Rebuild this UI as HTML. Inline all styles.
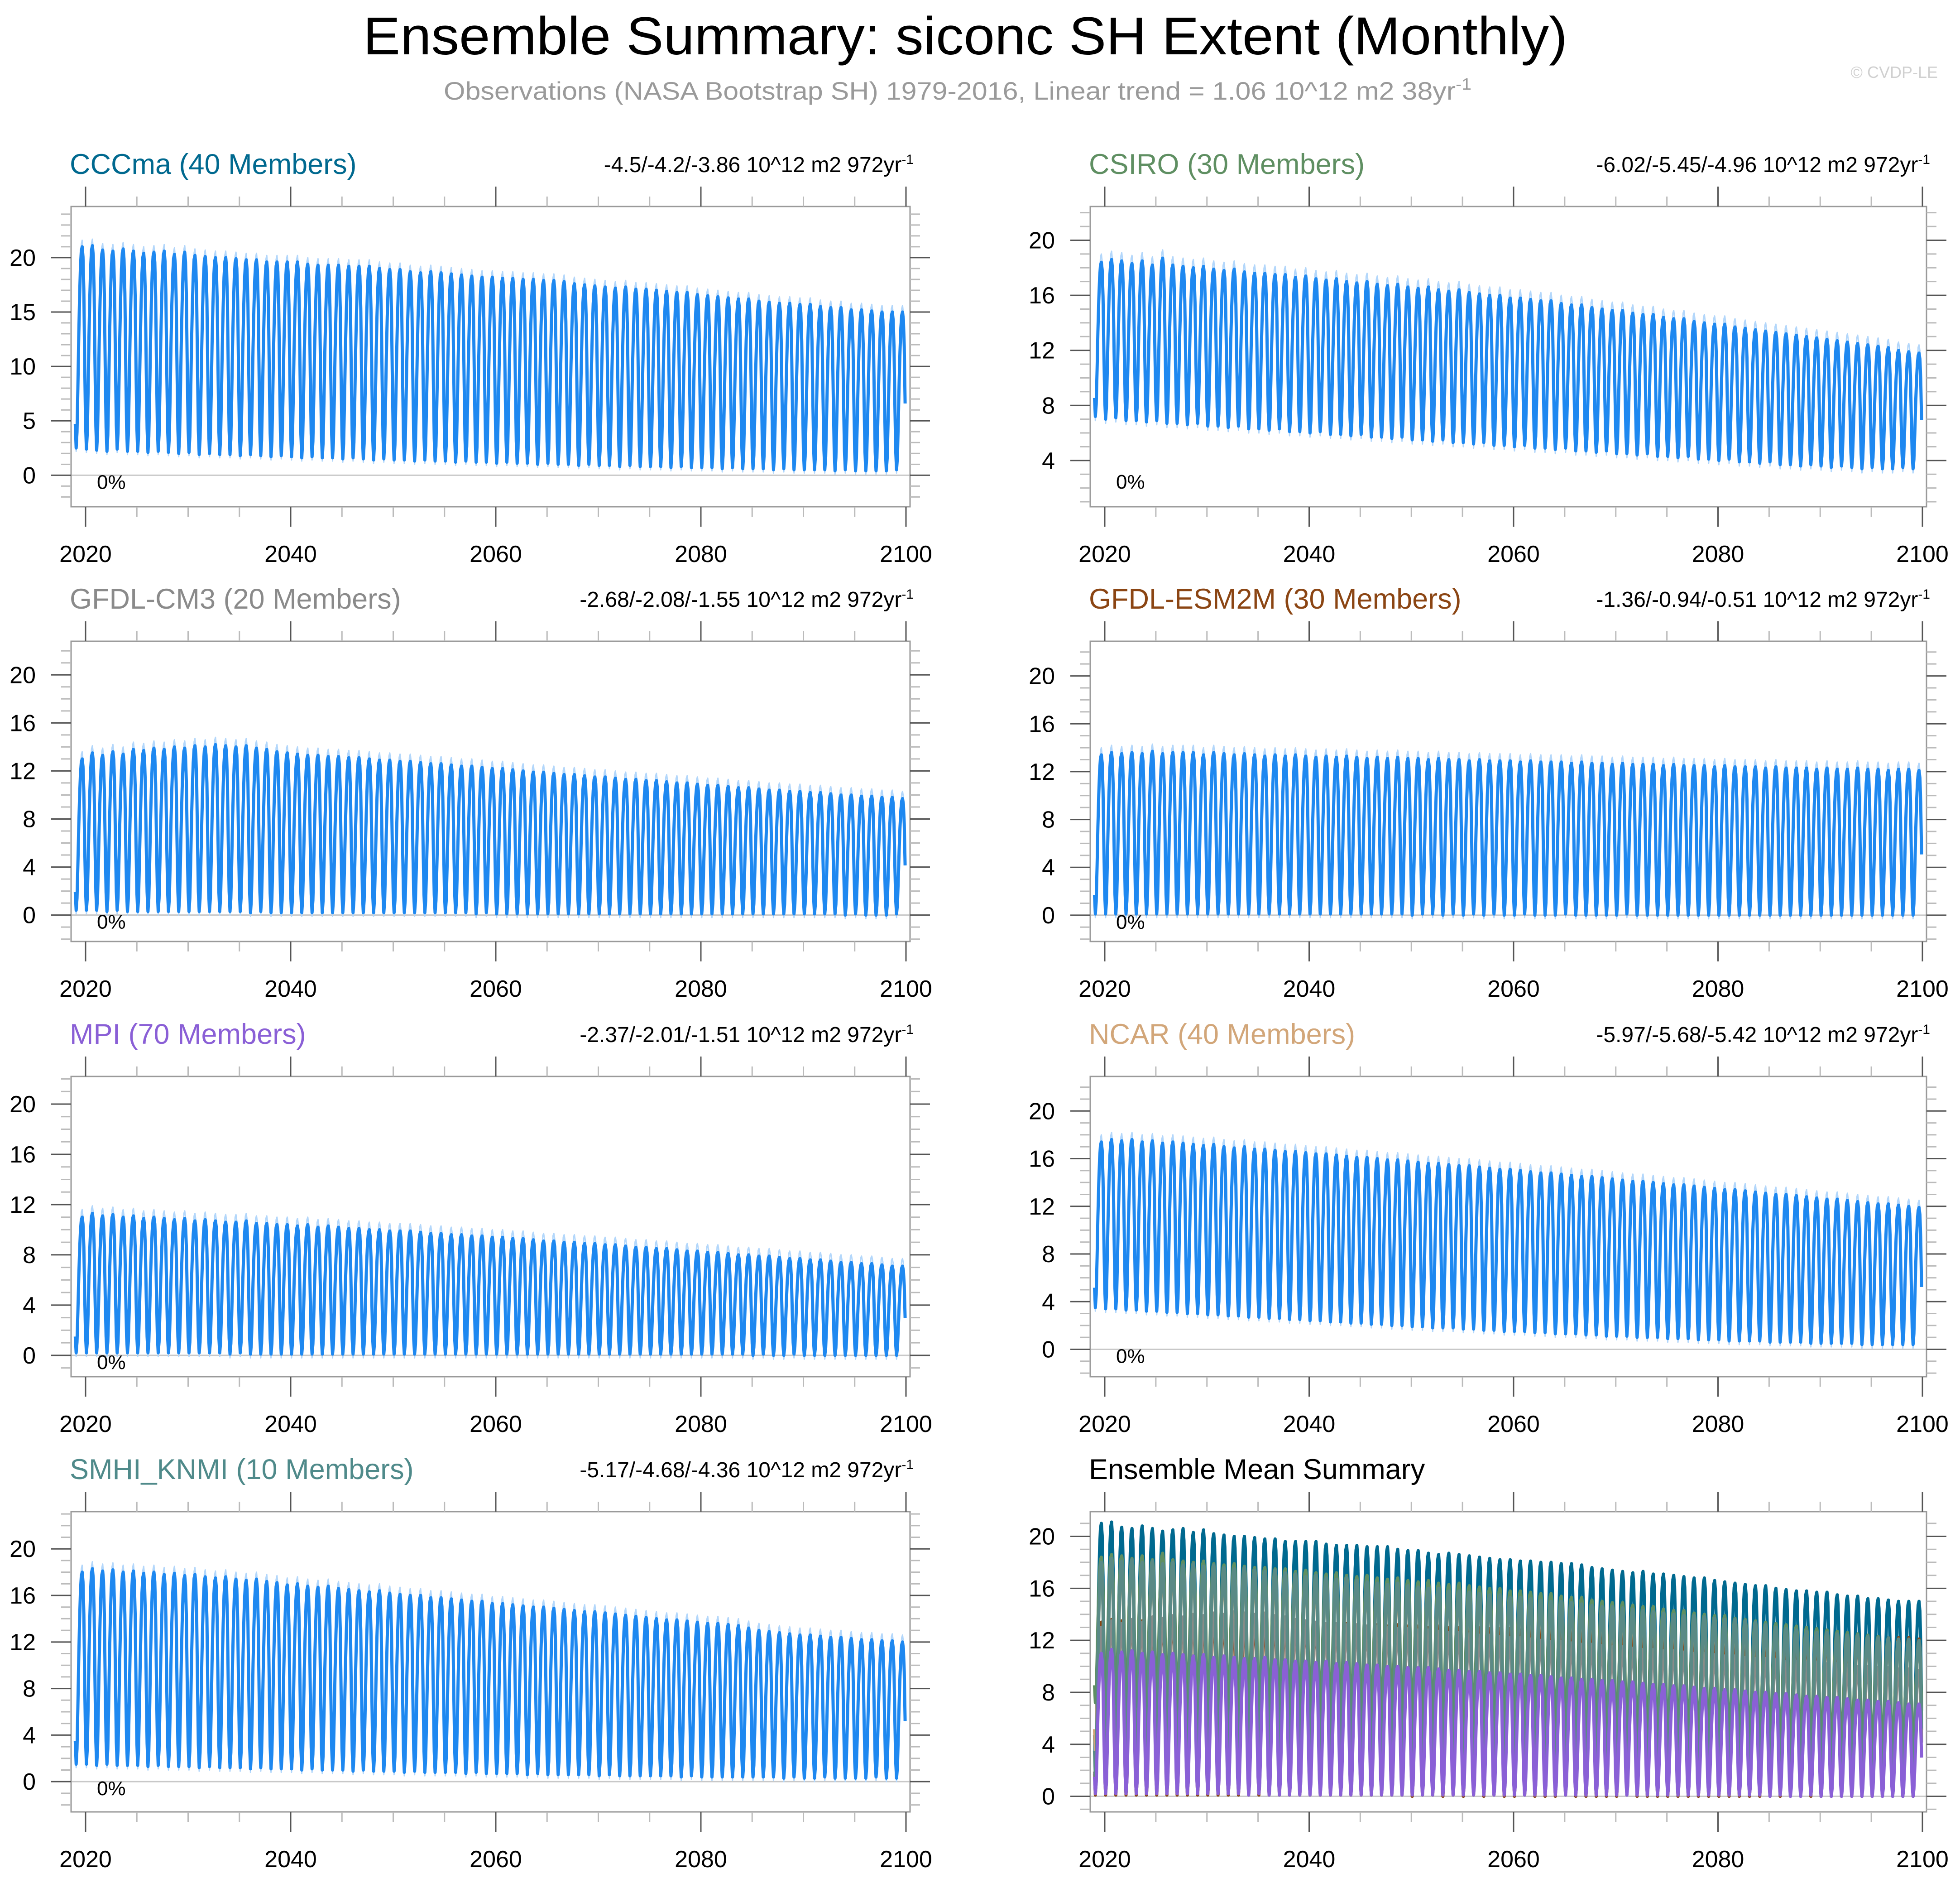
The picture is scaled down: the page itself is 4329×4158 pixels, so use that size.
<!DOCTYPE html>
<html><head><meta charset="utf-8"><title>Ensemble Summary: siconc SH Extent</title>
<style>html,body{margin:0;padding:0;background:#fff;}svg{display:block;font-family:"Liberation Sans",Arial,sans-serif;}</style>
</head><body>
<svg id="chart" width="4329" height="4158" viewBox="0 0 4329 4158" xmlns="http://www.w3.org/2000/svg">
<rect x="0" y="0" width="4329" height="4158" fill="#fff"/>
<text x="2132" y="120" font-size="118" text-anchor="middle" textLength="2660" lengthAdjust="spacingAndGlyphs" fill="#000">Ensemble Summary: siconc SH Extent (Monthly)</text>
<text x="980" y="220" font-size="56" fill="#9a9a9a" textLength="2270" lengthAdjust="spacingAndGlyphs">Observations (NASA Bootstrap SH) 1979-2016, Linear trend = 1.06 10^12 m2 38yr<tspan dy="-22" font-size="36">-1</tspan></text>
<text x="4280" y="172" font-size="36" fill="#d0d0d0" text-anchor="end">© CVDP-LE</text>
</svg>
<script>
// ---- data (annual max / min of monthly SH sea-ice extent, 10^12 m2), 2019..2099 ----
const years = [2019,2099];
const monthShape = [0.12,0.0,0.08,0.3,0.55,0.75,0.9,0.98,1.0,0.95,0.78,0.42];
const xTickLabels = [2020,2040,2060,2080,2100];

const cccmaMax = [21.0,21.1,20.7,20.6,20.8,20.6,20.4,20.5,20.6,
20.3,20.5,20.2,20.1,20.0,20.0,19.9,19.8,19.8,
19.6,19.6,19.6,19.6,19.4,19.3,19.3,19.3,19.2,
19.2,19.2,19.0,18.9,18.9,18.7,18.6,18.7,18.6,
18.5,18.4,18.3,18.2,18.2,18.1,18.1,18.0,18.0,
17.9,17.9,17.8,17.6,17.5,17.4,17.3,17.2,17.3,
17.1,17.1,17.0,16.9,16.8,16.8,16.6,16.5,16.4,
16.3,16.2,16.2,16.0,15.9,15.8,15.8,15.7,15.7,
15.5,15.4,15.4,15.2,15.2,15.1,15.0,15.0,15.0];
const cccmaMin = [2.5,2.4,2.3,2.2,2.4,2.2,2.2,2.1,2.2,
2.1,2.0,2.1,1.9,2.0,1.9,1.9,1.8,1.9,
1.8,1.7,1.8,1.7,1.6,1.7,1.6,1.6,1.5,
1.6,1.5,1.4,1.5,1.4,1.4,1.3,1.4,1.3,
1.3,1.2,1.3,1.2,1.2,1.1,1.2,1.1,1.1,
1.0,1.1,1.0,1.0,0.9,1.0,0.9,0.9,0.8,
0.9,0.8,0.8,0.8,0.7,0.8,0.7,0.7,0.7,
0.6,0.7,0.6,0.6,0.6,0.5,0.6,0.5,0.5,
0.5,0.5,0.4,0.5,0.4,0.4,0.4,0.4,0.5];
const csiroMax = [18.4,18.6,18.5,18.3,18.5,18.2,18.7,18.2,18.1,
18.0,18.1,17.9,17.8,17.9,17.7,17.6,17.6,17.5,
17.5,17.3,17.4,17.2,17.1,17.2,17.0,16.9,17.0,
16.8,16.7,16.8,16.6,16.5,16.6,16.4,16.3,16.4,
16.2,16.1,16.0,16.0,15.8,15.8,15.7,15.6,15.6,
15.4,15.3,15.3,15.1,15.0,14.9,14.9,14.7,14.6,
14.6,14.4,14.3,14.3,14.1,14.0,13.9,13.9,13.7,
13.6,13.5,13.4,13.3,13.2,13.1,13.0,12.9,12.8,
12.7,12.6,12.5,12.4,12.3,12.2,12.0,11.9,11.8];
const csiroMin = [7.2,7.0,7.1,6.9,6.9,6.8,6.9,6.7,6.7,
6.6,6.7,6.5,6.5,6.4,6.5,6.3,6.3,6.2,
6.3,6.1,6.1,6.0,6.1,5.9,5.9,5.8,5.9,
5.7,5.7,5.6,5.7,5.5,5.5,5.4,5.5,5.3,
5.3,5.2,5.3,5.1,5.1,5.0,5.1,4.9,4.9,
4.8,4.9,4.7,4.7,4.6,4.7,4.5,4.5,4.4,
4.5,4.3,4.3,4.2,4.3,4.1,4.1,4.0,4.1,
3.9,3.9,3.8,3.9,3.7,3.7,3.6,3.7,3.6,
3.5,3.6,3.5,3.4,3.5,3.4,3.4,3.5,3.4];
const cm3Max = [13.0,13.5,13.3,13.6,13.4,13.8,13.7,13.9,13.8,
14.0,13.9,14.1,14.0,14.2,14.1,14.0,14.1,13.9,
13.8,13.6,13.5,13.4,13.3,13.3,13.2,13.2,13.1,
13.1,13.0,12.9,12.9,12.8,12.8,12.7,12.6,12.6,
12.5,12.4,12.4,12.3,12.2,12.2,12.1,12.0,11.9,
11.9,11.8,11.7,11.7,11.6,11.5,11.5,11.4,11.3,
11.3,11.2,11.2,11.1,11.0,11.0,10.9,10.8,10.8,
10.7,10.6,10.6,10.5,10.4,10.4,10.3,10.3,10.2,
10.2,10.1,10.0,10.0,9.9,9.9,9.8,9.8,9.7];
const cm3Min = [0.4,0.4,0.4,0.3,0.4,0.3,0.3,0.3,0.3,
0.3,0.3,0.3,0.3,0.3,0.3,0.3,0.3,0.2,
0.3,0.2,0.2,0.2,0.2,0.2,0.2,0.2,0.2,
0.2,0.2,0.2,0.2,0.2,0.2,0.2,0.2,0.2,
0.2,0.2,0.2,0.1,0.2,0.1,0.1,0.1,0.1,
0.1,0.1,0.1,0.1,0.1,0.1,0.1,0.1,0.1,
0.1,0.1,0.1,0.1,0.1,0.1,0.1,0.1,0.1,
0.1,0.1,0.1,0.1,0.1,0.1,0.1,0.1,0.1,
0.1,0.1,0.1,0.0,0.1,0.0,0.0,0.0,0.1];
const esm2mMax = [13.4,13.6,13.5,13.6,13.5,13.7,13.5,13.6,13.6,
13.6,13.4,13.6,13.5,13.4,13.5,13.4,13.3,13.4,
13.3,13.4,13.3,13.2,13.3,13.2,13.3,13.2,13.1,
13.2,13.1,13.2,13.1,13.1,13.0,13.1,13.0,13.0,
12.9,13.0,12.9,12.9,12.9,12.8,12.9,12.8,12.8,
12.8,12.7,12.8,12.7,12.7,12.6,12.7,12.6,12.6,
12.6,12.5,12.6,12.5,12.5,12.5,12.4,12.5,12.4,
12.4,12.4,12.3,12.4,12.3,12.3,12.3,12.2,12.3,
12.2,12.2,12.3,12.2,12.2,12.1,12.2,12.2,12.1];
const esm2mMin = [0.1,0.1,0.1,0.1,0.1,0.1,0.1,0.1,0.1,
0.1,0.1,0.1,0.1,0.1,0.1,0.1,0.1,0.1,
0.1,0.1,0.1,0.1,0.1,0.1,0.1,0.1,0.1,
0.1,0.1,0.1,0.1,0.0,0.1,0.1,0.0,0.1,
0.0,0.1,0.0,0.1,0.0,0.0,0.1,0.0,0.0,
0.0,0.1,0.0,0.0,0.0,0.0,0.0,0.1,0.0,
0.0,0.0,0.0,0.0,0.0,0.0,0.0,0.0,0.0,
0.0,0.0,0.0,0.0,0.0,0.0,0.0,0.0,0.0,
0.0,0.0,0.0,0.0,0.0,0.0,0.0,0.0,0.0];
const mpiMax = [11.0,11.3,11.1,11.2,11.0,11.1,10.9,11.0,10.9,
10.8,10.9,10.7,10.8,10.7,10.6,10.6,10.7,10.5,
10.5,10.4,10.4,10.3,10.4,10.2,10.3,10.2,10.1,
10.1,10.0,10.0,9.9,9.9,9.9,9.8,9.7,9.7,
9.6,9.6,9.5,9.5,9.4,9.4,9.3,9.3,9.2,
9.1,9.1,9.0,9.0,8.9,8.9,8.8,8.8,8.7,
8.6,8.6,8.5,8.5,8.4,8.3,8.3,8.2,8.2,
8.1,8.0,8.0,7.9,7.9,7.8,7.7,7.7,7.6,
7.6,7.5,7.4,7.4,7.3,7.3,7.2,7.1,7.1];
const mpiMin = [0.2,0.2,0.2,0.2,0.2,0.2,0.2,0.2,0.2,
0.2,0.2,0.2,0.2,0.2,0.2,0.1,0.2,0.1,
0.1,0.1,0.1,0.1,0.1,0.1,0.1,0.1,0.1,
0.1,0.1,0.1,0.1,0.1,0.1,0.1,0.1,0.1,
0.1,0.1,0.1,0.1,0.1,0.1,0.1,0.1,0.1,
0.1,0.1,0.1,0.1,0.1,0.1,0.1,0.1,0.1,
0.1,0.1,0.1,0.1,0.1,0.1,0.1,0.1,0.1,
0.1,0.1,0.1,0.0,0.1,0.0,0.0,0.1,0.0,
0.0,0.0,0.0,0.0,0.0,0.0,0.0,0.0,0.0];
const ncarMax = [17.4,17.6,17.5,17.6,17.4,17.5,17.3,17.4,17.3,
17.2,17.1,17.2,17.0,16.9,17.0,16.8,16.8,16.7,
16.6,16.6,16.5,16.4,16.4,16.3,16.2,16.1,16.1,
16.0,15.9,15.9,15.8,15.7,15.6,15.6,15.5,15.4,
15.4,15.3,15.2,15.1,15.1,15.0,14.9,14.8,14.8,
14.7,14.6,14.5,14.5,14.4,14.3,14.2,14.1,14.1,
14.0,13.9,13.8,13.8,13.7,13.6,13.5,13.4,13.4,
13.3,13.2,13.1,13.0,13.0,12.9,12.8,12.7,12.6,
12.6,12.5,12.4,12.3,12.2,12.2,12.1,12.0,11.9];
const ncarMin = [3.5,3.4,3.4,3.3,3.3,3.2,3.2,3.1,3.1,
3.0,3.0,2.9,2.9,2.8,2.8,2.7,2.7,2.6,
2.6,2.5,2.5,2.4,2.4,2.3,2.3,2.2,2.2,
2.1,2.1,2.0,2.0,1.9,1.9,1.8,1.8,1.8,
1.7,1.7,1.6,1.6,1.5,1.5,1.5,1.4,1.4,
1.3,1.3,1.3,1.2,1.2,1.1,1.1,1.1,1.0,
1.0,1.0,0.9,0.9,0.9,0.8,0.8,0.8,0.7,
0.7,0.7,0.7,0.6,0.6,0.6,0.6,0.5,0.5,
0.5,0.5,0.5,0.4,0.4,0.4,0.4,0.4,0.4];
const smhiMax = [18.0,18.3,18.1,18.2,18.0,18.1,17.9,18.0,17.8,
17.9,17.7,17.8,17.6,17.5,17.6,17.4,17.3,17.4,
17.2,17.1,16.9,17.0,16.8,16.7,16.8,16.6,16.5,
16.4,16.3,16.4,16.2,16.1,16.0,16.0,15.8,15.8,
15.7,15.6,15.5,15.5,15.3,15.3,15.2,15.1,15.0,
15.0,14.9,14.8,14.7,14.6,14.6,14.5,14.4,14.3,
14.2,14.1,14.0,13.9,13.9,13.8,13.7,13.6,13.6,
13.5,13.4,13.2,13.0,12.9,12.8,12.7,12.6,12.6,
12.5,12.4,12.4,12.3,12.2,12.2,12.1,12.1,12.0];
const smhiMin = [1.5,1.5,1.4,1.5,1.4,1.4,1.4,1.3,1.4,
1.3,1.3,1.3,1.2,1.3,1.2,1.2,1.2,1.1,
1.2,1.1,1.1,1.1,1.0,1.1,1.0,1.0,1.0,
0.9,1.0,0.9,0.9,0.9,0.8,0.9,0.8,0.8,
0.8,0.8,0.7,0.8,0.7,0.7,0.7,0.7,0.6,
0.7,0.6,0.6,0.6,0.6,0.6,0.5,0.6,0.5,
0.5,0.5,0.5,0.5,0.5,0.4,0.5,0.4,0.4,
0.4,0.4,0.4,0.4,0.4,0.4,0.3,0.4,0.3,
0.3,0.4,0.3,0.3,0.3,0.3,0.4,0.3,0.3];

const modelNames = ["CCCma","CSIRO","GFDL-CM3","GFDL-ESM2M","MPI","NCAR","SMHI_KNMI"];
const modelMembers = [40,30,20,30,70,40,10];
const trendLabels = ["-4.5/-4.2/-3.86","-6.02/-5.45/-4.96","-2.68/-2.08/-1.55","-1.36/-0.94/-0.51","-2.37/-2.01/-1.51","-5.97/-5.68/-5.42","-5.17/-4.68/-4.36"];
const maxSeries = [cccmaMax,csiroMax,cm3Max,esm2mMax,mpiMax,ncarMax,smhiMax];
const minSeries = [cccmaMin,csiroMin,cm3Min,esm2mMin,mpiMin,ncarMin,smhiMin];

// ---- styling / layout (not data) ----
const titleColors = ["#00698f","#5f8f62","#8a8a8a","#8b4513","#8a5fd6","#d2a679","#4f8a8a"];
const ensColors = ["#00698f","#5f8f62","#8a8a8a","#8b4513","#8a60d6","#d2a679","#5a8a86"];
const ensOrder = [0,3,2,5,1,6,4];
const panels = [
 {x0:157,y0:456,w:1853,ymin:-2.9,ymax:24.7,step:5,start:0},
 {x0:2408,y0:456,w:1847,ymin:0.64,ymax:22.45,step:4,start:4},
 {x0:157,y0:1416,w:1853,ymin:-2.2,ymax:22.8,step:4,start:0},
 {x0:2408,y0:1416,w:1847,ymin:-2.2,ymax:22.9,step:4,start:0},
 {x0:157,y0:2377,w:1853,ymin:-1.7,ymax:22.2,step:4,start:0},
 {x0:2408,y0:2377,w:1847,ymin:-2.3,ymax:22.9,step:4,start:0},
 {x0:157,y0:3338,w:1853,ymin:-2.6,ymax:23.2,step:4,start:0},
 {x0:2408,y0:3338,w:1847,ymin:-1.2,ymax:21.9,step:4,start:0}
];
const PH = 663;
const NS = "http://www.w3.org/2000/svg";
const svg = document.getElementById('chart');
function mk(tag, attrs, parent){ const e=document.createElementNS(NS,tag); for(const k in attrs) e.setAttribute(k,attrs[k]); parent.appendChild(e); return e; }

function monthly(mi){
  const out=[]; const mx=maxSeries[mi], mn=minSeries[mi];
  const n=Math.min(mx.length,mn.length);
  for(let y=0;y<n;y++) for(let m=0;m<12;m++) out.push({t:years[0]+y+m/12, v:mn[y]+(mx[y]-mn[y])*monthShape[m]});
  return out;
}

panels.forEach((p,pi)=>{
  const g=mk('g',{},svg);
  
  
  const sx=t=>p.x0+32+(t-2020)*(p.w-32-9)/80;
  const sy=v=>p.y0+PH*(p.ymax-v)/(p.ymax-p.ymin);
  const clipId='clip'+pi;
  const cp=mk('clipPath',{id:clipId},g); mk('rect',{x:p.x0,y:p.y0,width:p.w,height:PH},cp);
  if(p.ymin<0){ const zl=mk('line',{x1:p.x0,x2:p.x0+p.w,y1:sy(0),y2:sy(0),stroke:'#c8c8c8','stroke-width':3},g);
      }
  const sg=mk('g',{'clip-path':'url(#'+clipId+')'},g);
  if(pi<7){
    const d=monthly(pi);
    const env=mk('polyline',{points:d.map((q,i)=>sx(q.t).toFixed(1)+','+sy(q.v+(monthShape[i%12]>0.9?0.6:(monthShape[i%12]<0.1?-0.3:0))).toFixed(1)).join(' '),fill:'none',stroke:'#b3d7fb','stroke-width':3,'stroke-linejoin':'round'},sg);
     
    const ln=mk('polyline',{points:d.map(q=>sx(q.t).toFixed(1)+','+sy(q.v).toFixed(1)).join(' '),fill:'none',stroke:'#1e88f0','stroke-width':7,'stroke-linejoin':'round'},sg);
     
  } else {
    ensOrder.forEach(mi=>{
      const d=monthly(mi);
      const ln=mk('polyline',{points:d.map(q=>sx(q.t).toFixed(1)+','+sy(q.v).toFixed(1)).join(' '),fill:'none',stroke:ensColors[mi],'stroke-width':7,'stroke-linejoin':'round'},sg);
      
      
    });
  }
  const fr=mk('rect',{x:p.x0,y:p.y0,width:p.w,height:PH,fill:'none',stroke:'#9a9a9a','stroke-width':3},g);
   
  for(let yr=2020;yr<=2100;yr+=5){
    const maj=yr%20===0, L=maj?44:22, col=maj?'#555':'#bbb', x=sx(yr);
    mk('line',{x1:x,x2:x,y1:p.y0,y2:p.y0-L,stroke:col,'stroke-width':3},g);
    mk('line',{x1:x,x2:x,y1:p.y0+PH,y2:p.y0+PH+L,stroke:col,'stroke-width':3},g);
  }
  xTickLabels.forEach(v=>{
    const t=mk('text',{x:sx(v),y:p.y0+PH+122,'font-size':52,'text-anchor':'middle',fill:'#000'},g);
    t.textContent=v;
     
  });
  for(let v=Math.ceil(p.ymin);v<=p.ymax;v++){
    const maj=((v-p.start)%p.step===0)&&v>=p.start, L=maj?44:22, col=maj?'#555':'#bbb', y=sy(v);
    mk('line',{x1:p.x0,x2:p.x0-L,y1:y,y2:y,stroke:col,'stroke-width':3},g);
    mk('line',{x1:p.x0+p.w,x2:p.x0+p.w+L,y1:y,y2:y,stroke:col,'stroke-width':3},g);
    if(maj){
      const t=mk('text',{x:p.x0-78,y:y+18,'font-size':52,'text-anchor':'end',fill:'#000'},g);
      t.textContent=v;
       
    }
  }
  const tt=mk('text',{x:p.x0-3,y:p.y0-72,'font-size':63,fill:pi<7?titleColors[pi]:'#000'},g);
  tt.textContent=pi<7?modelNames[pi]+' ('+modelMembers[pi]+' Members)':'Ensemble Mean Summary';
   
  if(pi<7){
    const tr=mk('text',{x:p.x0+p.w+8,y:p.y0-76,'font-size':48,'text-anchor':'end',fill:'#000'},g);
    tr.textContent=trendLabels[pi]+' 10^12 m2 972yr';
    const sup=mk('tspan',{dy:-18,'font-size':30},tr); sup.textContent='-1';
     
    const pc=mk('text',{x:p.x0+57,y:sy(0)+30,'font-size':44,fill:'#000'},g);
    pc.textContent='0%';
    if(p.ymin>0) pc.setAttribute('y',p.y0+PH-40);
     
  }
});
</script>
</body></html>
